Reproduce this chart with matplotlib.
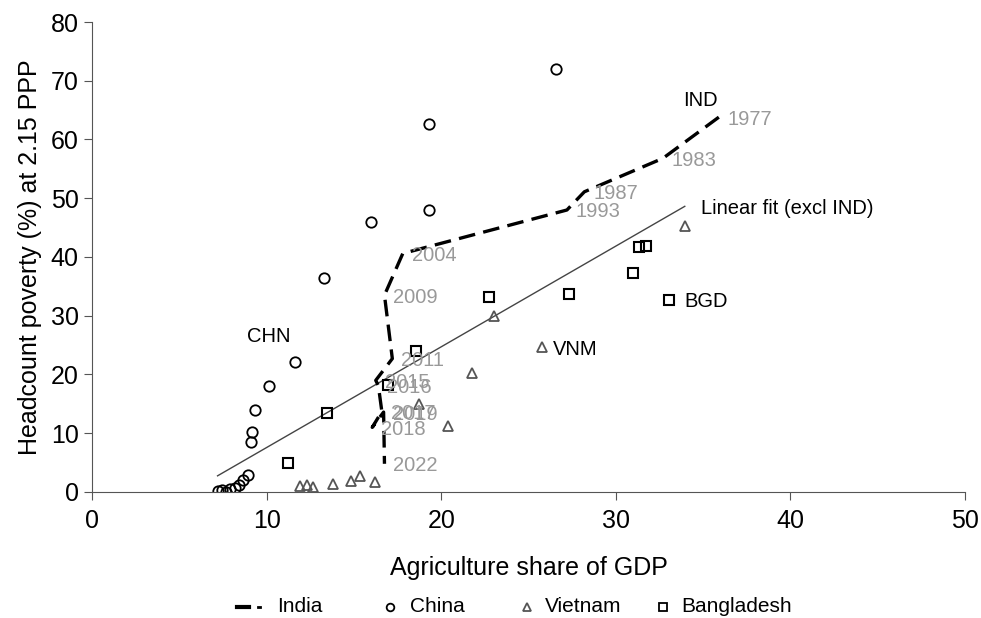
import numpy as np
import matplotlib
matplotlib.use("Agg")
from matplotlib import pyplot as plt
from matplotlib.lines import Line2D

plt.rcParams["font.family"] = ["Liberation Sans", "DejaVu Sans"]

# India path (agri share, poverty) with survey years
ind_year = ["1977", "1983", "1987", "1993", "2004", "2009", "2011",
            "2015", "2016", "2017", "2018", "2019", "2022"]
ind_agri = [35.9, 32.7, 28.2, 27.2, 17.8, 16.75, 17.2,
            16.25, 16.4, 16.6, 16.05, 16.7, 16.75]
ind_pov = [63.8, 56.8, 51.1, 48.0, 40.6, 33.5, 22.7,
           19.0, 18.1, 13.7, 11.0, 13.6, 4.8]

chn_agri = [26.6, 19.3, 19.3, 16.0, 13.3, 11.6, 10.15, 9.35, 9.15, 9.1,
            8.92, 8.67, 8.44, 8.19, 7.9, 7.67, 7.42, 7.19]
chn_pov = [72.0, 62.6, 48.0, 46.0, 36.4, 22.1, 18.0, 14.0, 10.2, 8.5,
           2.9, 2.0, 1.2, 0.7, 0.5, 0.05, 0.3, 0.2]

vnm_agri = [33.95, 23.0, 25.8, 21.75, 18.75, 20.4,
            11.9, 12.3, 12.65, 13.8, 14.85, 15.35, 16.2]
vnm_pov = [45.3, 30.0, 24.7, 20.3, 15.0, 11.2,
           1.0, 1.2, 0.8, 1.4, 1.9, 2.8, 1.7]

bgd_agri = [11.2, 13.45, 18.55, 16.95, 22.75, 27.3, 31.0, 31.35, 31.75, 33.05]
bgd_pov = [4.9, 13.4, 24.0, 18.2, 33.2, 33.7, 37.3, 41.7, 41.9, 32.7]

# linear fit over the three other countries
fit_x = np.array(chn_agri + vnm_agri + bgd_agri)
fit_y = np.array(chn_pov + vnm_pov + bgd_pov)
slope, intercept = np.polyfit(fit_x, fit_y, 1)
xx = np.array([fit_x.min(), fit_x.max()])

fig = plt.figure(figsize=(9.81, 6.18), dpi=100)
ax = fig.add_axes([0.0938, 0.2039, 0.8899, 0.7605])

grey = "#999999"
ax.plot(xx, intercept + slope * xx, color="#444444", lw=1.0)
ax.plot(ind_agri, ind_pov, color="black", lw=2.4, linestyle=(0, (5, 2.5)))
ax.plot(chn_agri, chn_pov, "o", mfc="none", mec="black", ms=7.5, mew=1.3)
ax.plot(vnm_agri, vnm_pov, "^", mfc="none", mec="#555555", ms=7.5, mew=1.3)
ax.plot(bgd_agri, bgd_pov, "s", mfc="none", mec="black", ms=7.5, mew=1.5)

for yr, x, y in zip(ind_year, ind_agri, ind_pov):
    ax.annotate(yr, (x, y), xytext=(9, -2), textcoords="offset pixels",
                ha="left", va="center", color=grey, fontsize=14.5)

ax.text(33.85, 66.7, "IND", fontsize=14.5, va="center")
ax.text(34.9, 48.3, "Linear fit (excl IND)", fontsize=14.5, va="center")
ax.text(33.9, 32.5, "BGD", fontsize=14.5, va="center")
ax.text(26.4, 24.3, "VNM", fontsize=14.5, va="center")
ax.text(8.9, 26.5, "CHN", fontsize=14.5, va="center")

ax.set_xlim(0, 50)
ax.set_ylim(0, 80)
ax.set_xticks(range(0, 51, 10))
ax.set_yticks(range(0, 81, 10))
for s in ["top", "right"]:
    ax.spines[s].set_visible(False)
for s in ["left", "bottom"]:
    ax.spines[s].set_color("#555555")
ax.tick_params(labelsize=18, length=6, color="#555555")
ax.tick_params(axis="x", pad=6)
ax.set_xlabel("Agriculture share of GDP", fontsize=18, labelpad=17)
ax.set_ylabel("Headcount poverty (%) at 2.15 PPP", fontsize=18, labelpad=6)

# legend below plot, fixed-width columns
W, H = 981.0, 618.0
leg_y = 1 - 607 / H
leg_base = 1 - 612 / H
leg_names = ["India", "China", "Vietnam", "Bangladesh"]
leg_sym = [237, 390, 527, 663]
leg_txt = [277, 410, 545, 681]
fig.add_artist(Line2D([237 / W, 249 / W], [leg_y, leg_y], color="black",
                      lw=3.0, transform=fig.transFigure))
fig.add_artist(Line2D([258 / W, 260 / W], [leg_y, leg_y], color="black",
                      lw=2.0, transform=fig.transFigure))
for name, sx, mk, ec in zip(leg_names[1:], leg_sym[1:], ["o", "^", "s"],
                            ["black", "#555555", "black"]):
    fig.add_artist(Line2D([sx / W], [leg_y], marker=mk, ls="none", mfc="none",
                          mec=ec, ms=5.5, mew=1.3, transform=fig.transFigure))
for name, tx in zip(leg_names, leg_txt):
    fig.text(tx / W, leg_base, name, fontsize=15, va="baseline", ha="left")

fig.savefig("out.png", dpi=100)
